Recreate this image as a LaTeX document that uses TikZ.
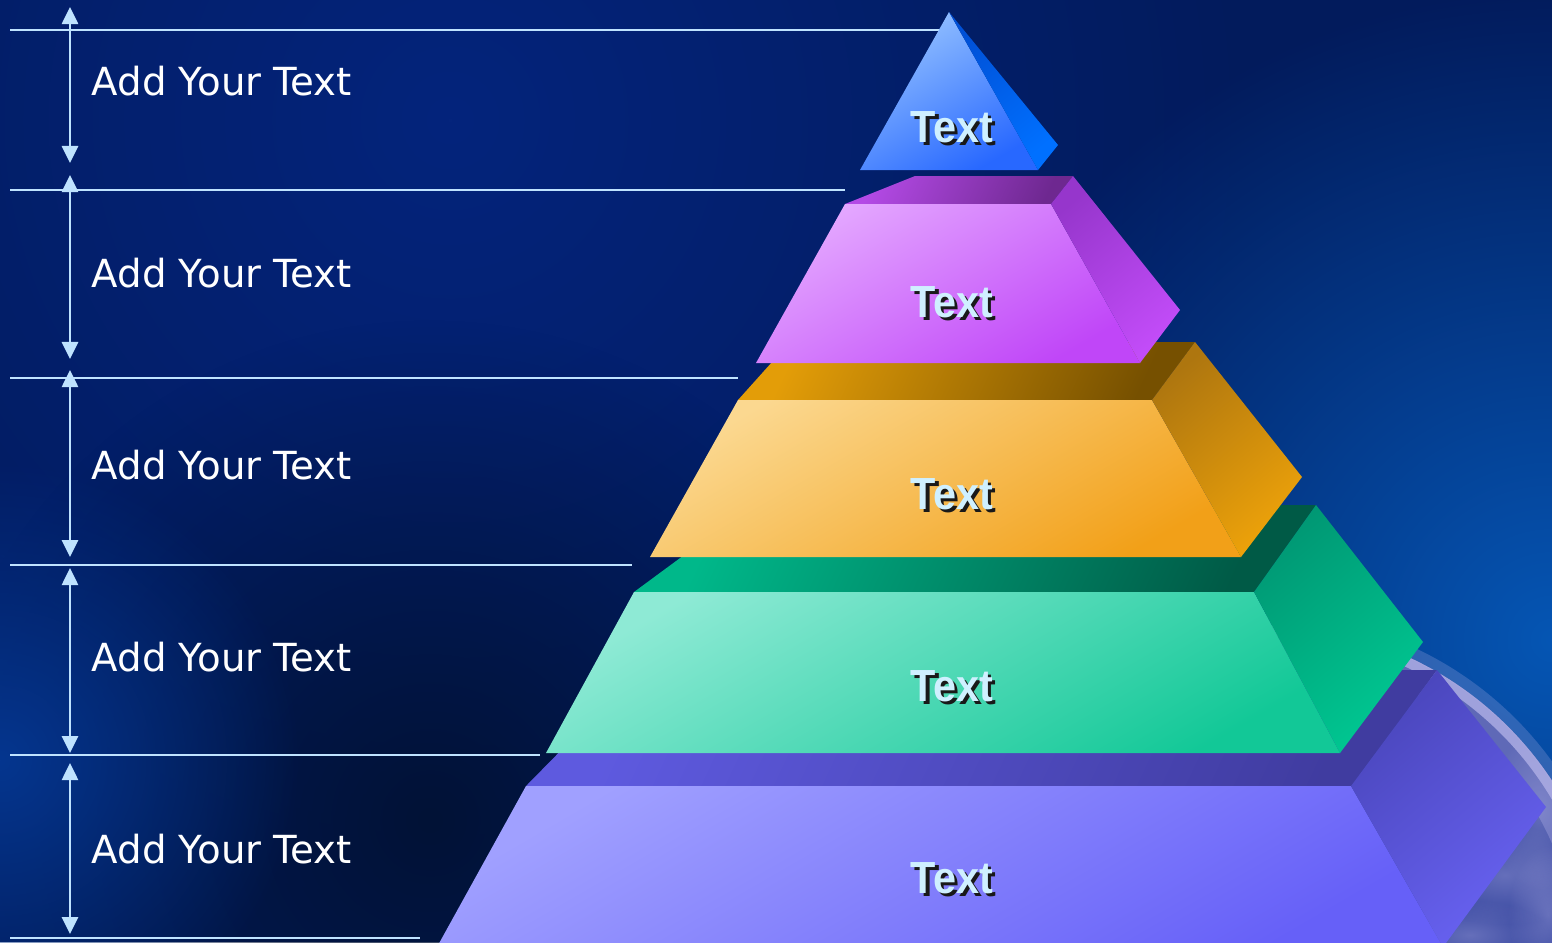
\documentclass[tikz,border=0pt]{standalone}
\usepackage{xcolor}
\usepackage{fontspec}
\setmainfont{DejaVu Sans}
\newfontfamily\tierfont{Liberation Sans}
\usepackage{tikz}
\usetikzlibrary{arrows.meta, fadings}

\definecolor{bgbase}{HTML}{021B5C}
\definecolor{bgtop}{HTML}{04247C}
\definecolor{bgglow}{HTML}{0656B4}
\definecolor{bgdark}{HTML}{011236}
\definecolor{bgleft}{HTML}{05368F}
\definecolor{globein}{HTML}{34449E}
\definecolor{globerim}{HTML}{B0B0E6}
\definecolor{guideblue}{HTML}{BFE3FF}
\definecolor{tiertext}{HTML}{CFF0FF}
\definecolor{bluF1}{HTML}{95C2FF}
\definecolor{bluF2}{HTML}{2868FF}
\definecolor{bluS1}{HTML}{0050D6}
\definecolor{bluS2}{HTML}{0070FF}
\definecolor{purT1}{HTML}{B44AE6}
\definecolor{purT2}{HTML}{6E2890}
\definecolor{purF1}{HTML}{E4A8FF}
\definecolor{purF2}{HTML}{C046F8}
\definecolor{purS1}{HTML}{9636CC}
\definecolor{purS2}{HTML}{C24CF8}
\definecolor{oraT1}{HTML}{E39D08}
\definecolor{oraT2}{HTML}{765000}
\definecolor{oraF1}{HTML}{FBD890}
\definecolor{oraF2}{HTML}{F2A018}
\definecolor{oraS1}{HTML}{AE760F}
\definecolor{oraS2}{HTML}{EDA20A}
\definecolor{greT1}{HTML}{00B88A}
\definecolor{greT2}{HTML}{005A46}
\definecolor{greF1}{HTML}{8EEAD5}
\definecolor{greF2}{HTML}{12C897}
\definecolor{greS1}{HTML}{009874}
\definecolor{greS2}{HTML}{00C892}
\definecolor{vioT1}{HTML}{5E5ADF}
\definecolor{vioT2}{HTML}{403CA0}
\definecolor{vioF1}{HTML}{A0A0FF}
\definecolor{vioF2}{HTML}{6660F8}
\definecolor{vioS1}{HTML}{4A46BC}
\definecolor{vioS2}{HTML}{6862F2}

\tikzfading[name=softglow, inner color=transparent!0, outer color=transparent!100]
\newcommand{\shtext}[1]{\makebox[0pt][l]{\hspace{1pt}\raisebox{-1.1pt}{\textcolor{black!90}{#1}}}#1}

\begin{document}
\begin{tikzpicture}[x=0.01cm, y=-0.01cm,
  guide/.style={guideblue, line width=0.6pt},
  span/.style={guideblue, line width=0.75pt, {Triangle[length=0.17cm,width=0.16cm]}-{Triangle[length=0.17cm,width=0.16cm]}},
  sidelabel/.style={anchor=base west, inner sep=0pt, text=white, font=\fontsize{11pt}{13pt}\selectfont},
  tierlabel/.style={anchor=base, inner sep=0pt, text=tiertext, font=\tierfont\bfseries\fontsize{12.8pt}{15pt}\selectfont, xscale=0.92},
  frontface/.style 2 args={top color=#1, bottom color=#2, shading angle=30},
  topface/.style 2 args={top color=#1, bottom color=#2, shading angle=65},
  sideface/.style 2 args={top color=#1, bottom color=#2, shading angle=40},
  cloud/.style={globerim, opacity=0.4, path fading=softglow}]
  \useasboundingbox (0,0) rectangle (1552,942);
  \clip (0,0) rectangle (1552,942);
  \fill[bgbase] (0,0) rectangle (1552,942);
  \fill[bgtop, path fading=softglow] (450,120) circle (8cm);
  \fill[bgglow, path fading=softglow] (1552,640) circle (6.5cm);
  \fill[bgdark, path fading=softglow] (430,820) circle (5cm);
  \fill[bgleft, path fading=softglow] (0,760) circle (3cm);

  \coordinate (globe) at (1265,969);
  \fill[globein] (globe) circle (3.43cm);
  \begin{scope}
    \clip (globe) circle (3.43cm);
    \fill[cloud] (1505,875) ellipse (0.9cm and 0.5cm);
    \fill[cloud] (1540,810) ellipse (0.5cm and 0.8cm);
    \fill[cloud] (1470,935) ellipse (0.8cm and 0.35cm);
    \fill[cloud] (1548,915) ellipse (0.4cm and 0.7cm);
  \end{scope}
  \draw[globerim, opacity=0.35, line width=0.3cm] (globe) circle (3.28cm);
  \draw[globerim, opacity=0.8, line width=0.1cm] (globe) circle (3.38cm);
  \draw[globerim, opacity=0.25, line width=0.12cm] (globe) circle (3.48cm);

  \coordinate (G1w) at (10,30);    \coordinate (G1e) at (940,30);
  \coordinate (G2w) at (10,190);   \coordinate (G2e) at (845,190);
  \coordinate (G3w) at (10,378);   \coordinate (G3e) at (738,378);
  \coordinate (G4w) at (10,565);   \coordinate (G4e) at (632,565);
  \coordinate (G5w) at (10,755);   \coordinate (G5e) at (540,755);
  \coordinate (G6w) at (10,938);   \coordinate (G6e) at (420,938);
  \draw[guide] (G1w) -- (G1e);
  \draw[guide] (G2w) -- (G2e);
  \draw[guide] (G3w) -- (G3e);
  \draw[guide] (G4w) -- (G4e);
  \draw[guide] (G5w) -- (G5e);
  \draw[guide] (G6w) -- (G6e);

  \coordinate (B1t) at (70,7);     \coordinate (B1b) at (70,163);
  \coordinate (B2t) at (70,175);   \coordinate (B2b) at (70,359);
  \coordinate (B3t) at (70,370);   \coordinate (B3b) at (70,557);
  \coordinate (B4t) at (70,568);   \coordinate (B4b) at (70,753);
  \coordinate (B5t) at (70,763);   \coordinate (B5b) at (70,934);
  \draw[span] (B1t) -- (B1b);
  \draw[span] (B2t) -- (B2b);
  \draw[span] (B3t) -- (B3b);
  \draw[span] (B4t) -- (B4b);
  \draw[span] (B5t) -- (B5b);

  \node[sidelabel] (A1) at (91,95) {Add Your Text};
  \node[sidelabel] (A2) at (91,287) {Add Your Text};
  \node[sidelabel] (A3) at (91,479) {Add Your Text};
  \node[sidelabel] (A4) at (91,671) {Add Your Text};
  \node[sidelabel] (A5) at (91,863) {Add Your Text};

  \shade[topface={vioT1}{vioT2}] (526,786) -- (640,670) -- (1437,670) -- (1351,786) -- cycle;
  \shade[frontface={vioF1}{vioF2}] (526,786) -- (1351,786) -- (1443,947) -- (437,947) -- cycle;
  \shade[sideface={vioS1}{vioS2}] (1351,786) -- (1437,670) -- (1546,807) -- (1443,947) -- cycle;

  \shade[topface={greT1}{greT2}] (634,592) -- (752,505) -- (1316,505) -- (1254,592) -- cycle;
  \shade[frontface={greF1}{greF2}] (634,592) -- (1254,592) -- (1340,753) -- (546,753) -- cycle;
  \shade[sideface={greS1}{greS2}] (1254,592) -- (1316,505) -- (1423,642) -- (1340,753) -- cycle;

  \shade[topface={oraT1}{oraT2}] (738,400) -- (790,342) -- (1195,342) -- (1152,400) -- cycle;
  \shade[frontface={oraF1}{oraF2}] (738,400) -- (1152,400) -- (1241,557) -- (650,557) -- cycle;
  \shade[sideface={oraS1}{oraS2}] (1152,400) -- (1195,342) -- (1302,477) -- (1241,557) -- cycle;

  \shade[topface={purT1}{purT2}] (845,204) -- (915,176) -- (1073,176) -- (1051,204) -- cycle;
  \shade[frontface={purF1}{purF2}] (845,204) -- (1051,204) -- (1140,363) -- (756,363) -- cycle;
  \shade[sideface={purS1}{purS2}] (1051,204) -- (1073,176) -- (1180,310) -- (1140,363) -- cycle;

  \shade[frontface={bluF1}{bluF2}] (949,12) -- (1038,170) -- (860,170) -- cycle;
  \shade[sideface={bluS1}{bluS2}] (949,12) -- (1058,145) -- (1038,170) -- cycle;

  \node[tierlabel] (T1) at (952,142) {\shtext{Text}};
  \node[tierlabel] (T2) at (952,317) {\shtext{Text}};
  \node[tierlabel] (T3) at (952,509) {\shtext{Text}};
  \node[tierlabel] (T4) at (952,701) {\shtext{Text}};
  \node[tierlabel] (T5) at (952,893) {\shtext{Text}};
\end{tikzpicture}
\end{document}
